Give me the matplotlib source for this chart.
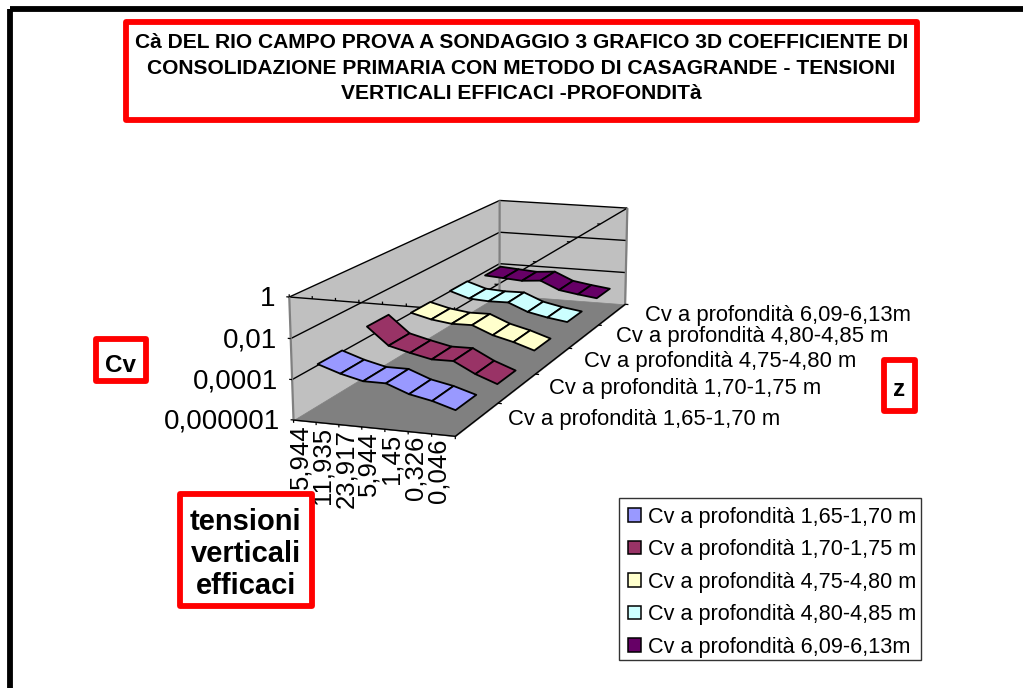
import numpy as np
import matplotlib
matplotlib.use("Agg")
import matplotlib.pyplot as plt
from matplotlib.patches import Rectangle, Patch
from mpl_toolkits.mplot3d.art3d import Poly3DCollection

plt.rcParams["font.family"] = ["Liberation Sans", "DejaVu Sans"]

# dati
tensioni = ["5,944", "11,935", "23,917", "5,944", "1,45", "0,326", "0,046"]
serie = ["Cv a profondità 1,65-1,70 m", "Cv a profondità 1,70-1,75 m",
         "Cv a profondità 4,75-4,80 m", "Cv a profondità 4,80-4,85 m",
         "Cv a profondità 6,09-6,13m"]
cv_1 = [2.6e-4, 1.1e-4, 5.9e-5, 5.9e-5, 2.2e-5, 1.3e-5, 5.9e-6]
cv_2 = [8.7e-4, 1.07e-4, 5.6e-5, 3.2e-5, 3.3e-5, 8.7e-6, 3.3e-6]
cv_3 = [2.4e-4, 1.26e-4, 8.9e-5, 9.3e-5, 3.2e-5, 1.66e-5, 7.1e-6]
cv_4 = [2.4e-4, 1.05e-4, 8.9e-5, 9.3e-5, 3.2e-5, 1.86e-5, 1.26e-5]
cv_5 = [1.35e-4, 1.12e-4, 9.3e-5, 1.15e-4, 3.7e-5, 2.45e-5, 1.74e-5]
valori = [cv_1, cv_2, cv_3, cv_4, cv_5]
colori = ["#9999FF", "#993366", "#FFFFCC", "#CCFFFF", "#660066"]
z_ticks = [0, -2, -4, -6]
z_labels = ["1", "0,01", "0,0001", "0,000001"]

titolo = ("Cà DEL RIO CAMPO PROVA A SONDAGGIO 3 GRAFICO 3D COEFFICIENTE DI\n"
          "CONSOLIDAZIONE PRIMARIA CON METODO DI CASAGRANDE - TENSIONI\n"
          "VERTICALI EFFICACI -PROFONDITà")

W, H = 1023, 688
fig = plt.figure(figsize=(W / 100, H / 100), dpi=100)
ax = fig.add_axes([0, 0, 1, 1], projection="3d", computed_zorder=False)
ax.set_axis_off()
ax.set_xlim(0, 7)
ax.set_ylim(0, 5)
ax.set_zlim(-6, 0)
ax.apply_aspect()

# camera: angoli della scatola 3D -> pixel dell'immagine
angoli = {(0, 0, -6): (293.3, 419.3), (7, 0, -6): (455.0, 436.7),
          (7, 5, -6): (625.0, 303.3), (0, 5, -6): (500.0, 296.0),
          (0, 0, 0): (289.3, 296.7), (0, 5, 0): (499.3, 200.0),
          (7, 5, 0): (627.3, 208.3), (7, 0, 0): (455.0, 310.7)}
A = []
inv = ax.transData.inverted()
for (x, y, z), (px, py) in angoli.items():
    u, v = inv.transform((px, H - py))
    A.append([x, y, z, 1, 0, 0, 0, 0, -u * x, -u * y, -u * z, -u])
    A.append([0, 0, 0, 0, x, y, z, 1, -v * x, -v * y, -v * z, -v])
P = np.linalg.svd(np.array(A))[2][-1].reshape(3, 4)
P = P / P[2, 3]
M = np.array([P[0], P[1], [0, 0.01, 0, -0.1], P[2]])
ax.get_proj = lambda: M


def pix(x, y, z):
    w = P @ np.array([x, y, z, 1.0])
    dx, dy = ax.transData.transform(w[:2] / w[2])
    return dx, H - dy


def linea(xs, ys, zs, color="black", lw=1.0, zorder=2):
    ax.plot(xs, ys, zs, color=color, lw=lw, zorder=zorder, clip_on=False,
            solid_capstyle="butt")


def faccia(verts, color, zorder):
    pc = Poly3DCollection(verts, facecolors=color, edgecolors=color,
                          linewidths=0.5, zorder=zorder, clip_on=False)
    ax.add_collection3d(pc, autolim=False)


# pareti e pavimento
faccia([[(0, 0, -6), (0, 5, -6), (0, 5, 0), (0, 0, 0)]], "#C0C0C0", 1)
faccia([[(0, 5, -6), (7, 5, -6), (7, 5, 0), (0, 5, 0)]], "#C0C0C0", 1)
for z in z_ticks[:-1]:
    linea([0, 0, 7], [0, 5, 5], [z, z, z])
linea([0, 7, 7], [0, 0, 5], [0, 0, 0])
linea([0, 0], [0, 0], [-6, 0], color="#808080", lw=1.6)
linea([0, 0], [5, 5], [-6, 0], color="#808080", lw=1.6)
linea([7, 7], [5, 5], [-6, 0], color="#808080", lw=1.6)
for i in range(8):
    linea([i, i], [0, 0], [0, 0.13], lw=0.9)
for j in range(1, 5):
    linea([6.85, 7], [j, j], [0, 0], lw=0.9)
faccia([[(0, 0, -6), (7, 0, -6), (7, 5, -6), (0, 5, -6)]], "#808080", 3)

# nastri, dal piu lontano al piu vicino
for j in reversed(range(len(valori))):
    zs = np.log10(valori[j])
    y0, y1 = j + 0.27, j + 0.75
    verts = [[(i + .5, y0, zs[i]), (i + 1.5, y0, zs[i + 1]),
              (i + 1.5, y1, zs[i + 1]), (i + .5, y1, zs[i])] for i in range(6)]
    pc = Poly3DCollection(verts, facecolors=colori[j], edgecolors="black",
                          linewidths=1.3, zorder=10 - j, clip_on=False)
    ax.add_collection3d(pc, autolim=False)

# assi e tacche
linea([0, 7, 7], [0, 0, 5], [-6, -6, -6], zorder=4)
for i in range(8):
    linea([i, i], [0, 0], [-6, -6.14], lw=0.9, zorder=4)
for j in range(1, 6):
    linea([7, 7.18], [j, j], [-6, -6], lw=0.9, zorder=4)
for z in z_ticks:
    linea([-0.13, 0], [0, 0], [z, z], lw=0.9, zorder=4)

# cornice, riquadri e legenda in pixel
over = fig.add_axes([0, 0, 1, 1], zorder=5)
over.set_xlim(0, W)
over.set_ylim(H, 0)
over.axis("off")
over.add_patch(Rectangle((10, 8.5), W + 20, H + 20, fill=False, ec="black", lw=4.2))

for z, lab in zip(z_ticks, z_labels):
    px, py = pix(-0.6, 0, z)
    over.text(px, py + 3, lab, ha="right", va="center", fontsize=20, zorder=1)
for i, lab in enumerate(tensioni):
    px, py = pix(i + 0.3, 0, -6.18)
    over.text(px, py, lab, rotation=90, ha="center", va="top", fontsize=18.5, zorder=1)
for j, lab in enumerate(serie):
    px, py = pix(8.2 + 0.11 * j, j + 0.58, -6)
    over.text(px, py, lab, ha="left", va="center", fontsize=15.8, zorder=1)


def riquadro(x0, y0, x1, y1, testo, fs, yt=None, ls=1.2):
    over.add_patch(Rectangle((x0, y0), x1 - x0, y1 - y0, fc="white", ec="#FF0000",
                             lw=4.2, joinstyle="round", zorder=3))
    over.text((x0 + x1) / 2, (y0 + y1) / 2 if yt is None else yt, testo,
              ha="center", va="center", fontsize=fs, fontweight="bold",
              linespacing=ls, zorder=4)


riquadro(126, 22, 917, 119.5, titolo, 15.1, yt=68, ls=1.43)
riquadro(95.5, 339, 146, 381, "Cv", 17.5, yt=366)
riquadro(884, 360, 915, 411, "z", 17.5, yt=390)
riquadro(180, 493.5, 311.5, 605.5, "tensioni\nverticali\nefficaci", 21, yt=554, ls=1.2)

over.add_patch(Rectangle((619, 498), 302, 162, fc="white", ec="#333333", lw=1.0, zorder=3))
handles = [Patch(fc=c, ec="black", lw=1.1) for c in colori]
leg = over.legend(handles, serie, loc="upper left", bbox_to_anchor=(619, 498),
                  bbox_transform=over.transData, borderaxespad=0, fontsize=15.6,
                  handlelength=0.6, handleheight=0.6, handletextpad=0.36,
                  labelspacing=0.53, borderpad=0.4, frameon=False)
leg.set_zorder(4)

fig.savefig("out.png", dpi=100)
